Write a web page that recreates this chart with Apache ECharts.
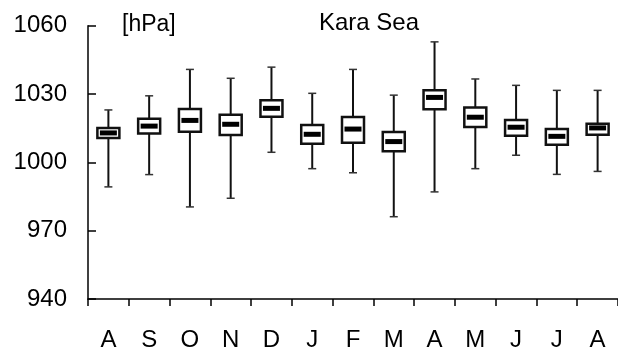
<!DOCTYPE html>
<html>
<head>
<meta charset="utf-8">
<script src="https://cdn.jsdelivr.net/npm/echarts@6/dist/echarts.min.js"></script>
<style>
html,body{margin:0;padding:0;background:#fff;}
#c{width:618px;height:355px;}
</style>
</head>
<body>
<div id="c"></div>
<script>
const categories = ['A','S','O','N','D','J','F','M','A','M','J','J','A'];
const whiskerLow  = [989.2, 994.6, 980.4, 984.2, 1004.4, 997.2, 995.4, 976.1, 987.0, 997.2, 1003.1, 994.7, 996.0];
const quartile1   = [1010.7, 1012.7, 1013.4, 1012.0, 1020.0, 1008.2, 1008.6, 1004.8, 1023.3, 1015.5, 1011.7, 1007.7, 1012.1];
const medians     = [1012.9, 1015.9, 1018.4, 1016.7, 1023.7, 1012.3, 1014.6, 1009.1, 1028.5, 1019.8, 1015.4, 1011.4, 1015.1];
const quartile3   = [1015.1, 1019.1, 1023.4, 1020.9, 1027.3, 1016.4, 1019.9, 1013.3, 1031.7, 1024.1, 1018.6, 1014.6, 1016.9];
const whiskerHigh = [1023.0, 1029.2, 1040.8, 1036.9, 1041.8, 1030.3, 1040.8, 1029.5, 1052.9, 1036.6, 1033.8, 1031.6, 1031.6];
const yTicks = [940, 970, 1000, 1030, 1060];

const seriesData = categories.map((c, i) => [i, whiskerLow[i], quartile1[i], medians[i], quartile3[i], whiskerHigh[i]]);

const chart = echarts.init(document.getElementById('c'), null, {renderer: 'canvas'});
const FONT = 'Liberation Sans, Arial, sans-serif';

chart.setOption({
  animation: false,
  backgroundColor: '#ffffff',
  title: [
    {text: 'Kara Sea', left: 364, top: 6, textAlign: 'center',
     textStyle: {fontFamily: FONT, fontSize: 24, fontWeight: 'normal', color: '#000'}},
    {text: '[hPa]', left: 117, top: 8,
     textStyle: {fontFamily: FONT, fontSize: 23, fontWeight: 'normal', color: '#000'}}
  ],
  grid: {left: 88, top: 25.7, width: 541, height: 273.2, containLabel: false},
  xAxis: {
    type: 'category',
    data: categories,
    boundaryGap: true,
    axisLine: {show: true, lineStyle: {color: '#000', width: 1.5}},
    axisTick: {show: true, alignWithLabel: false, inside: false, length: 7, lineStyle: {color: '#000', width: 1.5}},
    axisLabel: {fontFamily: FONT, fontSize: 24, color: '#000', margin: 29, interval: 0},
    splitLine: {show: false}
  },
  yAxis: {
    type: 'value',
    min: yTicks[0], max: yTicks[yTicks.length - 1], interval: 30,
    axisLine: {show: true, lineStyle: {color: '#000', width: 1.5}},
    axisTick: {show: true, inside: true, length: 8, lineStyle: {color: '#000', width: 1.5}},
    axisLabel: {fontFamily: FONT, fontSize: 24, color: '#000', margin: 21,
                formatter: function (v) { return String(v); }},
    splitLine: {show: false}
  },
  series: [{
    type: 'custom',
    clip: false,
    data: seriesData,
    encode: {x: 0, y: [1, 2, 3, 4, 5]},
    renderItem: function (params, api) {
      const x = api.value(0);
      const pLow = api.coord([x, api.value(1)]);
      const pQ1 = api.coord([x, api.value(2)]);
      const pMed = api.coord([x, api.value(3)]);
      const pQ3 = api.coord([x, api.value(4)]);
      const pHigh = api.coord([x, api.value(5)]);
      const cx = pMed[0];
      const bw = 22, capW = 8, medW = 17, medH = 5;
      return {
        type: 'group',
        children: [
          {type: 'line', shape: {x1: cx, y1: pHigh[1], x2: cx, y2: pLow[1]},
           style: {stroke: '#111', lineWidth: 2}},
          {type: 'line', shape: {x1: cx - capW / 2, y1: pHigh[1], x2: cx + capW / 2, y2: pHigh[1]},
           style: {stroke: '#333', lineWidth: 1.5}},
          {type: 'line', shape: {x1: cx - capW / 2, y1: pLow[1], x2: cx + capW / 2, y2: pLow[1]},
           style: {stroke: '#333', lineWidth: 1.5}},
          {type: 'rect', shape: {x: cx - bw / 2, y: pQ3[1], width: bw, height: pQ1[1] - pQ3[1]},
           style: {fill: '#fff', stroke: '#111', lineWidth: 2.5}},
          {type: 'rect', shape: {x: cx - medW / 2, y: pMed[1] - medH / 2, width: medW, height: medH},
           style: {fill: '#000'}}
        ]
      };
    }
  }]
});
</script>
</body>
</html>
